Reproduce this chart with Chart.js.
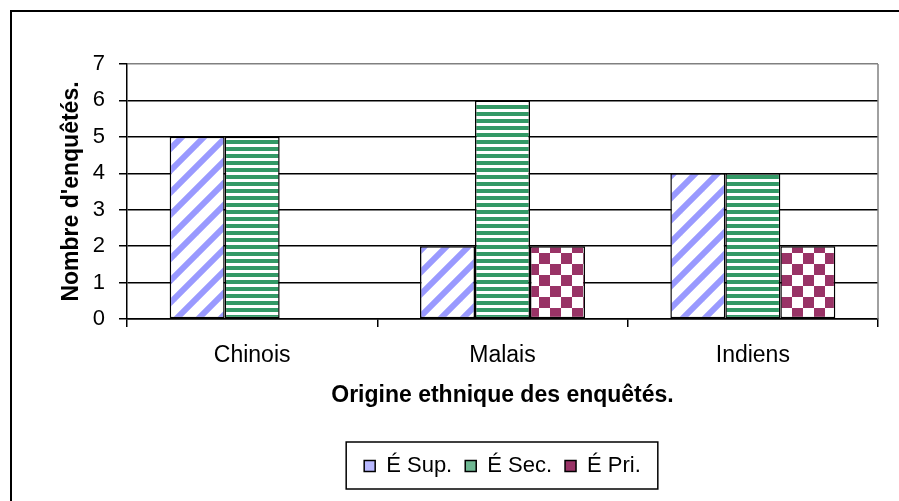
<!DOCTYPE html>
<html>
<head>
<meta charset="utf-8">
<script src="https://cdn.jsdelivr.net/npm/chart.js@4"></script>
<style>
  html, body { margin: 0; padding: 0; background: #fff; overflow: hidden; }
  #graphe { position: absolute; left: 0; top: 0; }
</style>
</head>
<body>
<canvas id="graphe" width="899" height="501"></canvas>
<script>
// Données
const categories = ['Chinois', 'Malais', 'Indiens'];
const nomsSeries = ['É Sup.', 'É Sec.', 'É Pri.'];
const valeursSup = [5, 2, 4];
const valeursSec = [5, 6, 4];
const valeursPri = [0, 2, 2];
const graduationsY = [0, 1, 2, 3, 4, 5, 6, 7];

const police = 'Liberation Sans, Arial, sans-serif';

// Motifs de remplissage (hachures façon Excel)
function tuile(l, h) {
  const c = document.createElement('canvas');
  c.width = l; c.height = h;
  const g = c.getContext('2d');
  g.fillStyle = '#fff';
  g.fillRect(0, 0, l, h);
  return { c, g };
}

function motifDiagonal() {
  const t = 22;
  const { c, g } = tuile(t, t);
  g.strokeStyle = '#9999ff';
  g.lineWidth = 6;
  // diagonales "/" qui coupent les bords de la tuile en leur milieu
  [-t / 2, t / 2, 3 * t / 2, 5 * t / 2].forEach(k => {
    g.beginPath();
    g.moveTo(k - 2 * t, 2 * t);
    g.lineTo(k + 2 * t, -2 * t);
    g.stroke();
  });
  return g.createPattern(c, 'repeat');
}

function motifHorizontal() {
  const { c, g } = tuile(8, 7);
  g.fillStyle = '#339966';
  g.fillRect(0, 0, 8, 4);
  return g.createPattern(c, 'repeat');
}

function motifDamier() {
  const { c, g } = tuile(22, 22);
  g.fillStyle = '#993366';
  g.fillRect(0, 0, 11, 11);
  g.fillRect(11, 11, 11, 11);
  return g.createPattern(c, 'repeat');
}

// petites cases de légende (le motif est trop grand pour une case de 11 px)
const couleursLegende = ['#b8b8ff', '#6fb893', '#993366'];

// Cadre extérieur, bordure grise du tracé et cadre de la légende
const cadrePlugin = {
  id: 'cadrePlugin',
  beforeDraw(chart) {
    const ctx = chart.ctx;
    ctx.save();
    ctx.fillStyle = '#000';
    ctx.fillRect(10, 10, chart.width - 10, 2);
    ctx.fillRect(10, 10, 2, chart.height - 10);
    ctx.restore();
  },
  afterDraw(chart) {
    const ctx = chart.ctx;
    const a = chart.chartArea;
    ctx.save();
    ctx.strokeStyle = '#808080';
    ctx.lineWidth = 1.5;
    ctx.beginPath();
    ctx.moveTo(a.right, a.top);
    ctx.lineTo(a.right, a.bottom);
    ctx.stroke();

    const boites = chart.legend.legendHitBoxes;
    if (boites && boites.length) {
      const gauche = Math.min(...boites.map(b => b.left)) - 18;
      const droite = Math.max(...boites.map(b => b.left + b.width)) + 17;
      const milieu = boites[0].top + boites[0].height / 2;
      const haut = milieu - 24;
      const bas = milieu + 23;
      ctx.strokeStyle = '#000';
      ctx.lineWidth = 1.5;
      ctx.strokeRect(gauche, haut, droite - gauche, bas - haut);
    }
    ctx.restore();
  }
};

const ctx = document.getElementById('graphe').getContext('2d');
new Chart(ctx, {
  type: 'bar',
  data: {
    labels: categories,
    datasets: [
      { label: nomsSeries[0], data: valeursSup, backgroundColor: motifDiagonal(), borderColor: '#000', borderWidth: 1.5, borderSkipped: false },
      { label: nomsSeries[1], data: valeursSec, backgroundColor: motifHorizontal(), borderColor: '#000', borderWidth: 1.5, borderSkipped: false },
      { label: nomsSeries[2], data: valeursPri, backgroundColor: motifDamier(), borderColor: '#000', borderWidth: 1.5, borderSkipped: false }
    ]
  },
  options: {
    responsive: false,
    animation: false,
    devicePixelRatio: 1,
    layout: { padding: { top: 64, right: 21, left: 0, bottom: 14 } },
    datasets: { bar: { categoryPercentage: 0.659, barPercentage: 1 } },
    scales: {
      x: {
        grid: { offset: true, drawOnChartArea: false, color: '#000', lineWidth: 1.5, tickLength: 8 },
        border: { color: '#000', width: 1.5 },
        ticks: { color: '#000', font: { size: 23, family: police }, padding: 15 },
        title: {
          display: true,
          text: 'Origine ethnique des enquêtés.',
          color: '#000',
          font: { size: 23, weight: 'bold', family: police },
          padding: { top: 0, bottom: 33 }
        },
        afterFit: s => { s.height = 123; }
      },
      y: {
        min: 0,
        max: 7,
        afterBuildTicks: s => { s.ticks = graduationsY.map(v => ({ value: v })); },
        ticks: { color: '#000', font: { size: 22, family: police }, padding: 14 },
        grid: {
          color: c => (c.tick && c.tick.value === 7 ? '#808080' : '#000'),
          tickColor: '#000',
          lineWidth: 1.5,
          tickLength: 8
        },
        border: { color: '#000', width: 1.5 },
        title: {
          display: true,
          text: "Nombre d'enquêtés.",
          color: '#000',
          font: { size: 23, weight: 'bold', family: police },
          padding: { top: 58, bottom: 0 }
        },
        afterFit: s => { s.width = 127; }
      }
    },
    plugins: {
      legend: {
        position: 'bottom',
        fullSize: false,
        labels: {
          boxWidth: 11,
          boxHeight: 11,
          padding: 13,
          color: '#000',
          font: { size: 22, family: police },
          generateLabels: chart => Chart.defaults.plugins.legend.labels.generateLabels(chart)
            .map((item, i) => ({ ...item, fillStyle: couleursLegende[i], lineWidth: 1.5 }))
        }
      },
      tooltip: { enabled: false }
    }
  },
  plugins: [cadrePlugin]
});
</script>
</body>
</html>
